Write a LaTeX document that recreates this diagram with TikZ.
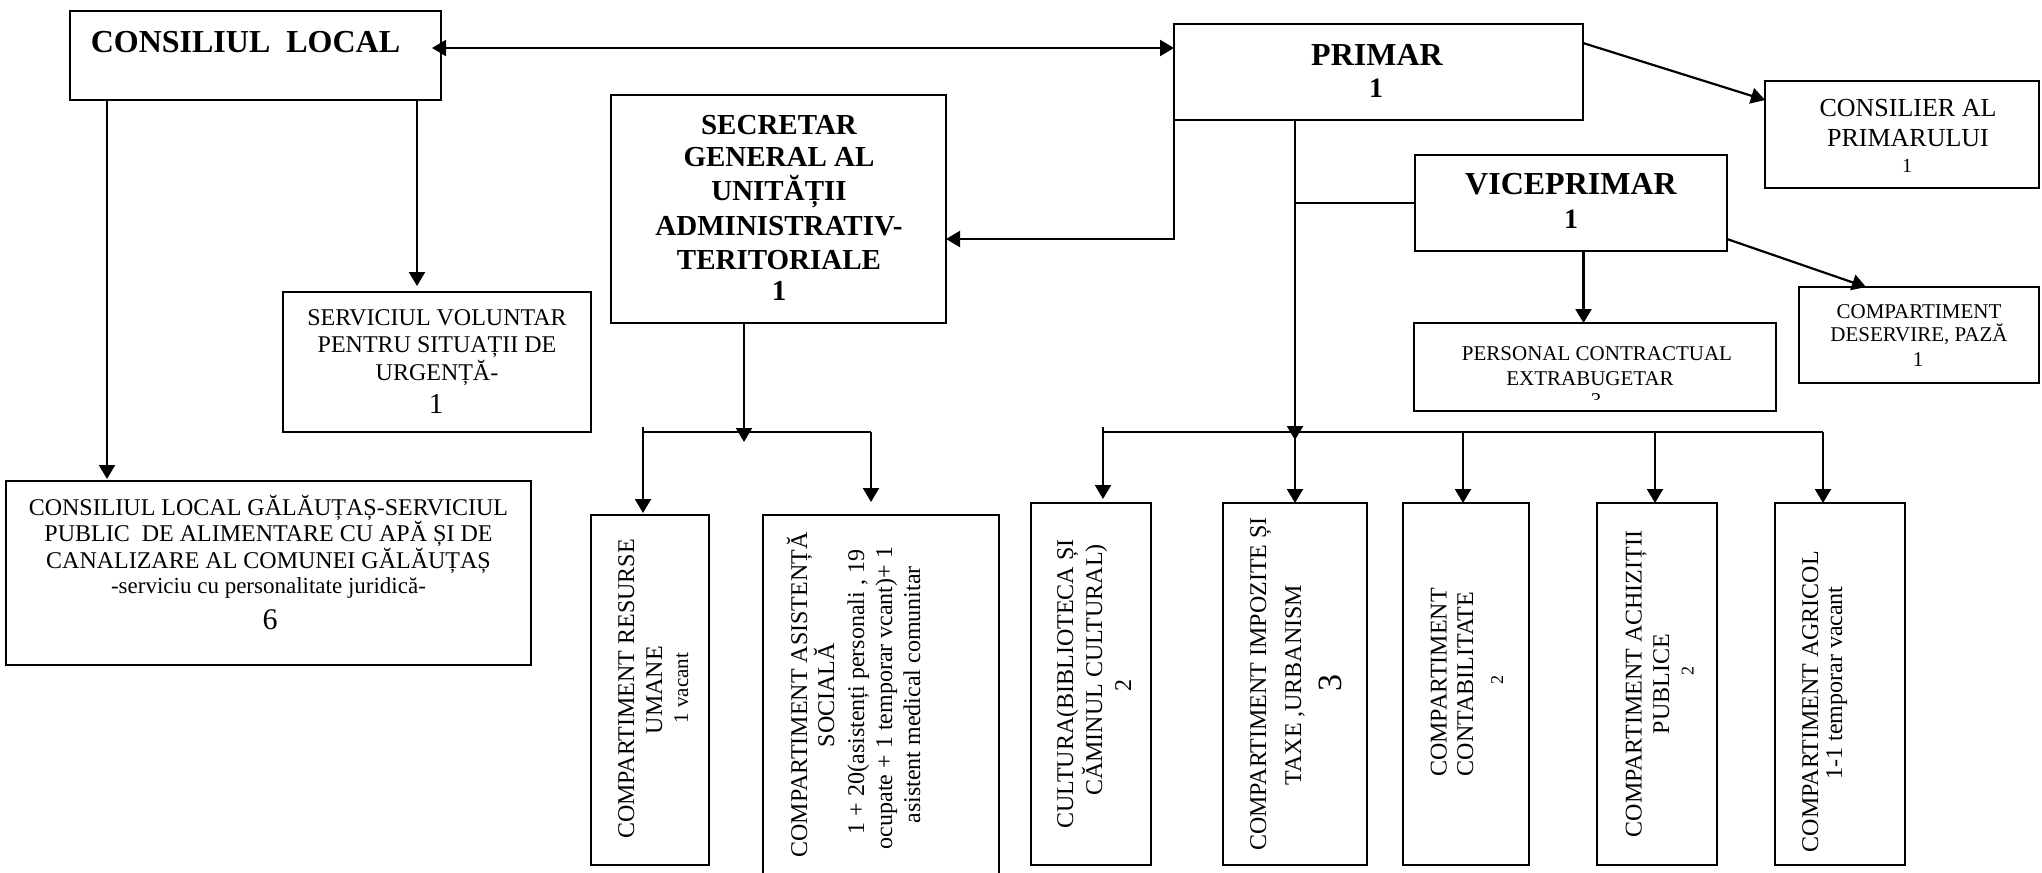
\documentclass[tikz,border=0pt]{standalone}
\usepackage{fontspec}
\setmainfont{Liberation Serif}
\usetikzlibrary{arrows.meta}
\newcommand\fsz[2]{\fontsize{#1}{#2}\selectfont}
\tikzset{
  box/.style={draw,line width=1pt,inner sep=0pt,outer sep=0pt},
  ln/.style={line width=1.1pt},
  arr/.style={line width=1.1pt,-{Triangle[length=7pt,width=8pt]}},
  darr/.style={line width=1.1pt,{Triangle[length=7pt,width=8pt]}-{Triangle[length=7pt,width=8pt]}},
  tx/.style={inner sep=0pt,outer sep=0pt,anchor=base},
  vt/.style={tx,rotate=90},
  bA/.style={font=\bfseries\fsz{16}{19}},
  bB/.style={font=\bfseries\fsz{14.5}{17}},
  bC/.style={font=\bfseries\fsz{14}{16}},
  rA/.style={font=\fsz{12}{14}},
  rB/.style={font=\fsz{13}{15}},
  rC/.style={font=\fsz{10.5}{12}},
  rD/.style={font=\fsz{9}{11}},
}
\begin{document}
\begin{tikzpicture}[x=0.5pt,y=-0.5pt]
\useasboundingbox (0,0) rectangle (2042,873);
\fill[white] (0,0) rectangle (2042,873);
\clip (0,0) rectangle (2042,873);

% boxes
\node[box,minimum width=185.5pt,minimum height=44.5pt] (cl) at (255.5,55.5) {};
\node[box,minimum width=204.5pt,minimum height=48pt] (pr) at (1378.5,72) {};
\node[box,minimum width=167.5pt,minimum height=114pt] (sec) at (778.5,209) {};
\node[box,minimum width=137pt,minimum height=53.5pt] (cons) at (1902,134.5) {};
\node[box,minimum width=156pt,minimum height=48pt] (vp) at (1571,203) {};
\node[box,minimum width=154pt,minimum height=70pt] (svsu) at (437,362) {};
\node[box,minimum width=262.5pt,minimum height=92pt] (apa) at (268.5,573) {};
\node[box,minimum width=181pt,minimum height=44pt] (pers) at (1595,367) {};
\node[box,minimum width=120pt,minimum height=48pt] (paza) at (1919,335) {};
\node[box,minimum width=59pt,minimum height=175pt] (ru) at (650,690) {};
\node[box,minimum width=118pt,minimum height=182.5pt] (as) at (881,697.5) {};
\node[box,minimum width=60pt,minimum height=181pt] (cult) at (1091,684) {};
\node[box,minimum width=72pt,minimum height=181pt] (imp) at (1295,684) {};
\node[box,minimum width=63pt,minimum height=181pt] (cont) at (1466,684) {};
\node[box,minimum width=60pt,minimum height=181pt] (ach) at (1657,684) {};
\node[box,minimum width=65pt,minimum height=181pt] (agr) at (1840,684) {};

% helper coordinates
\coordinate (y48) at (0,48);
\coordinate (y239) at (0,239);
\coordinate (y432) at (0,432);
\coordinate (y440) at (0,440);
\coordinate (y442) at (0,442);
\coordinate (x107) at (107,0);
\coordinate (x417) at (417,0);
\coordinate (x744) at (744,0);
\coordinate (x1583) at (1583.5,0);
\coordinate (b1) at (643,432);
\coordinate (b2) at (871,432);
\coordinate (c1) at (1103,432);
\coordinate (c2) at (1463,432);
\coordinate (c3) at (1655,432);
\coordinate (c4) at (1823,432);

% connectors
\draw[darr,shorten <=-4.5pt] (cl.east |- y48) -- (pr.west |- y48);
\draw[arr,shorten >=3pt] (cl.south -| x417) -- (svsu.north -| x417);
\draw[arr,shorten >=1pt] (cl.south -| x107) -- (apa.north -| x107);
\draw[arr] (pr.south west) |- (sec.east |- y239);
\draw[arr] ([yshift=14.5pt]pr.east) -- ([yshift=-9.5pt]cons.north west);
\draw[arr] (pr.south -| imp.north) -- (imp.north |- y440);
\draw[arr] (imp.north |- y432) -- (imp.north);
\draw[ln] (vp.west) -- (vp.west -| imp.north);
\draw[arr] (vp.south -| x1583) -- (pers.north -| x1583);
\draw[arr] ([yshift=-18pt]vp.east) -- ([xshift=33.5pt]paza.north west);
\draw[ln] (c1) -- (c4);
\draw[arr,shorten >=2pt] ([yshift=2.5pt]c1) -- (c1 |- cult.north);
\draw[arr] (c2) -- (c2 |- cont.north);
\draw[arr] (c3) -- (c3 |- ach.north);
\draw[arr] (c4) -- (c4 |- agr.north);
\draw[ln] (b1) -- (b2);
\draw[arr] (sec.south -| x744) -- (x744 |- y442);
\draw[arr,shorten >=1pt] ([yshift=2.5pt]b1) -- (b1 |- ru.north);
\draw[arr,shorten >=6.5pt] (b2) -- (b2 |- as.north);

% texts
\node[tx,bA] (clt) at (245.5,52) {CONSILIUL\ \ LOCAL};
\node[tx,bA] (prt) at (1377,65) {PRIMAR};
\node[tx,bC] (prn) at (1376,97) {1};

\node[tx,bB] (s1) at (779,134.3) {SECRETAR};
\node[tx,bB] (s2) at (779,166.7) {GENERAL AL};
\node[tx,bB] (s3) at (779,200) {UNITĂȚII};
\node[tx,bB] (s4) at (779,235) {ADMINISTRATIV-};
\node[tx,bB] (s5) at (779,269.3) {TERITORIALE};
\node[tx,bB] (s6) at (779,300) {1};

\node[tx,rB] (k1) at (1908,116.7) {CONSILIER AL};
\node[tx,rB] (k2) at (1908,146.7) {PRIMARULUI};
\node[tx,font=\fsz{10}{12}] (k3) at (1907,172.7) {1};

\node[tx,bA] (v1) at (1571,194) {VICEPRIMAR};
\node[tx,bC] (v2) at (1571,228) {1};

\node[tx,rA] (u1) at (437,325) {SERVICIUL VOLUNTAR};
\node[tx,rA] (u2) at (437,352.7) {PENTRU SITUAȚII DE};
\node[tx,rA] (u3) at (437,380) {URGENȚĂ-};
\node[tx,font=\fsz{14.5}{17}] (u4) at (436,413) {1};

\node[tx,rA] (a1) at (268.5,515) {CONSILIUL LOCAL GĂLĂUȚAȘ-SERVICIUL};
\node[tx,rA] (a2) at (268.5,541.7) {PUBLIC\ \ DE ALIMENTARE CU APĂ ȘI DE};
\node[tx,rA] (a3) at (268.5,568.3) {CANALIZARE AL COMUNEI GĂLĂUȚAȘ};
\node[tx,font=\fsz{11.5}{13}] (a4) at (268.5,593.3) {-serviciu cu personalitate juridică-};
\node[tx,font=\fsz{15}{17}] (a5) at (270,629.3) {6};

\node[tx,rC] (p1) at (1597,360) {PERSONAL CONTRACTUAL};
\node[tx,rC] (p2) at (1590,385) {EXTRABUGETAR};
\begin{scope}
\clip (1414,323) rectangle (1776,399.5);
\node[tx,rC] (p3) at (1596,407.5) {3};
\end{scope}

\node[tx,rC] (z1) at (1919,318.3) {COMPARTIMENT};
\node[tx,rC] (z2) at (1919,341.7) {DESERVIRE, PAZĂ};
\node[tx,rC] (z3) at (1918,366.7) {1};

% rotated texts
\node[vt,rA] (r1) at (634,689) {COMPARTIMENT RESURSE};
\node[vt,rA] (r2) at (662,690) {UMANE};
\node[vt,rC] (r3) at (688,688) {1 vacant};

\node[vt,rA] (t1) at (807,695) {COMPARTIMENT ASISTENȚĂ};
\node[vt,rA] (t2) at (834,695) {SOCIALĂ};
\node[vt,rA] (t3) at (864,692) {1 + 20(asistenți personali , 19};
\node[vt,rA] (t4) at (892,698) {ocupate + 1 temporar vcant)+ 1};
\node[vt,rA] (t5) at (920,695) {asistent medical comunitar};

\node[vt,rA] (q1) at (1073,684) {CULTURA(BIBLIOTECA ȘI};
\node[vt,rA] (q2) at (1102,670) {CĂMINUL CULTURAL)};
\node[vt,rA] (q3) at (1131,685) {2};

\node[vt,rA] (i1) at (1266,684) {COMPARTIMENT IMPOZITE ȘI};
\node[vt,rA] (i2) at (1301,685) {TAXE ,URBANISM};
\node[vt,font=\fsz{17}{20}] (i3) at (1341,683) {3};

\node[vt,rA] (o1) at (1446.7,682.5) {COMPARTIMENT};
\node[vt,rA] (o2) at (1473,684) {CONTABILITATE};
\node[vt,rD] (o3) at (1503,680) {2};

\node[vt,rA] (h1) at (1641.7,684) {COMPARTIMENT ACHIZIȚII};
\node[vt,rA] (h2) at (1669,684) {PUBLICE};
\node[vt,rD] (h3) at (1693.6,671) {2};

\node[vt,rA] (g1) at (1818,701.5) {COMPARTIMENT AGRICOL};
\node[vt,rA] (g2) at (1842,683) {1-1 temporar vacant};
\end{tikzpicture}
\end{document}
